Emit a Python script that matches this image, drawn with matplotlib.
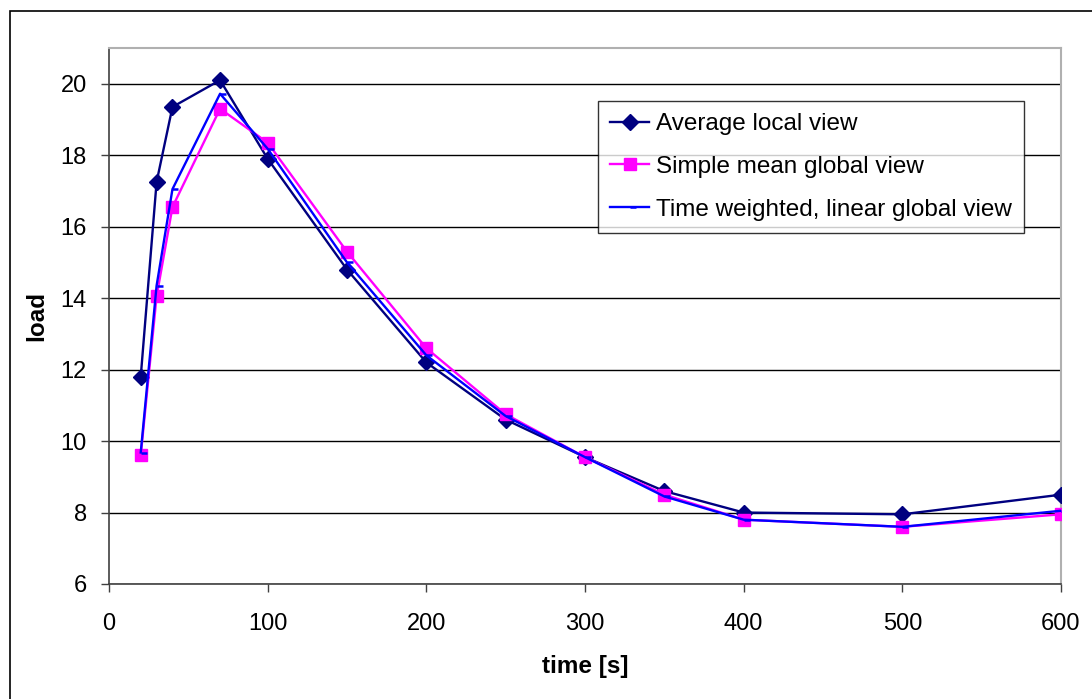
import numpy as np
import matplotlib.pyplot as plt
from matplotlib.patches import Rectangle

plt.rcParams['font.family'] = ['Liberation Sans', 'DejaVu Sans']

# ── data ───────────────────────────────────
time_s = [20, 30, 40, 70, 100, 150, 200, 250, 300, 350, 400, 500, 600]
avg_local = [11.8, 17.25, 19.35, 20.1, 17.9, 14.8, 12.2, 10.6, 9.55, 8.6, 8.0, 7.95, 8.5]
simple_mean = [9.6, 14.05, 16.55, 19.3, 18.35, 15.3, 12.6, 10.75, 9.55, 8.5, 7.8, 7.6, 7.95]
time_weighted = [9.68, 14.35, 17.05, 19.72, 18.18, 15.0, 12.4, 10.7, 9.55, 8.45, 7.8, 7.6, 8.05]

W, H = 1092, 699
fig = plt.figure(figsize=(W / 100, H / 100), dpi=100)
ax = fig.add_axes([109 / W, (H - 584) / H, 952 / W, (584 - 48) / H])

# outer chart frame (cut off on the right and bottom)
fig.patches.append(Rectangle((10 / W, -0.1), 1.2, (H - 11) / H + 0.1,
                             transform=fig.transFigure, fill=False,
                             edgecolor='black', linewidth=1.2, clip_on=False))

dash = [(0, 0), (1, 0)]
ax.plot(time_s, avg_local, color='#000080', lw=1.7, marker='D', ms=8,
        label='Average local view', zorder=3)
ax.plot(time_s, simple_mean, color='#FF00FF', lw=1.7, marker='s', ms=8,
        label='Simple mean global view', zorder=3)
ax.plot(time_s, time_weighted, color='#0000FF', lw=1.7, marker=dash, ms=9,
        mew=1.8, label='Time weighted, linear global view', zorder=4)

ax.set_xlim(0, 600)
ax.set_ylim(6, 21)
ax.set_xticks(range(0, 601, 100))
ax.set_yticks(range(6, 21, 2))
ax.yaxis.grid(True, color='black', lw=1.0)
ax.set_axisbelow(True)

for s in ['top', 'right']:
    ax.spines[s].set_color('#b0b0b0')
    ax.spines[s].set_linewidth(1.5)
for s in ['left', 'bottom']:
    ax.spines[s].set_color('#404040')
    ax.spines[s].set_linewidth(1.2)

ax.tick_params(axis='both', direction='out', length=6, width=1.0,
               labelsize=17, color='#404040')
ax.tick_params(axis='x', pad=15)
ax.tick_params(axis='y', pad=10)

ax.set_xlabel('time [s]', fontsize=17.5, fontweight='bold', labelpad=14)
ax.set_ylabel('load', fontsize=17.5, fontweight='bold', labelpad=9)

leg = ax.legend(loc='upper left', bbox_to_anchor=((598 - 109) / 952, (584 - 101) / 536),
                fontsize=17.5, frameon=True, fancybox=False, edgecolor='black',
                borderpad=0.5, labelspacing=0.85, handlelength=1.6,
                handletextpad=0.3, borderaxespad=0)
leg.get_frame().set_linewidth(1.0)

plt.savefig('out.png', dpi=100)
